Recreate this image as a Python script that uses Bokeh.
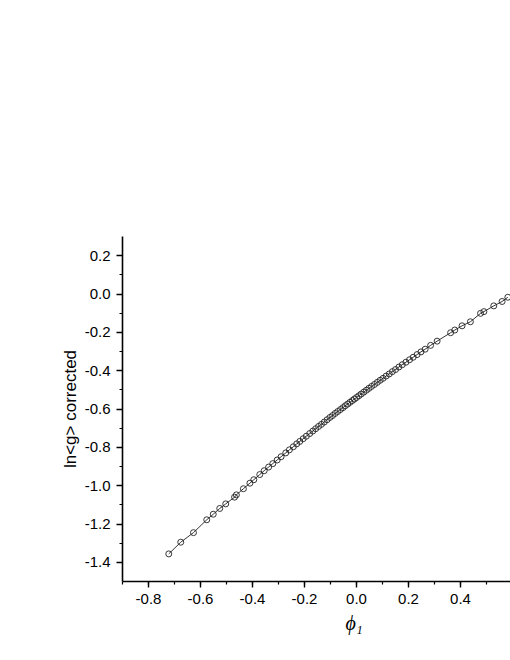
from bokeh.plotting import figure
from bokeh.models import Range1d, SingleIntervalTicker, PrintfTickFormatter, Title
from bokeh.embed import file_html
from bokeh.resources import INLINE

phi1 = [-0.722, -0.676, -0.627, -0.576, -0.551, -0.526, -0.503, -0.469, -0.462, -0.435, -0.410,
        -0.395, -0.372, -0.355, -0.338, -0.322, -0.305, -0.290, -0.272, -0.258, -0.243, -0.230,
        -0.218, -0.205, -0.193, -0.180, -0.168, -0.157, -0.146, -0.135, -0.124, -0.113, -0.102,
        -0.092, -0.082, -0.072, -0.062, -0.052, -0.043, -0.034, -0.025, -0.016, -0.008, 0.000,
        0.009, 0.018, 0.028, 0.038, 0.048, 0.058, 0.069, 0.080, 0.091, 0.102, 0.114, 0.126,
        0.138, 0.150, 0.163, 0.176, 0.190, 0.204, 0.218, 0.233, 0.248, 0.264, 0.285, 0.310,
        0.362, 0.378, 0.406, 0.438, 0.477, 0.490, 0.528, 0.560, 0.582]
ln_g = [-1.356, -1.295, -1.245, -1.178, -1.149, -1.119, -1.095, -1.060, -1.048, -1.016, -0.987,
        -0.969, -0.942, -0.922, -0.903, -0.885, -0.866, -0.849, -0.829, -0.813, -0.797, -0.782,
        -0.769, -0.755, -0.742, -0.728, -0.715, -0.703, -0.691, -0.680, -0.668, -0.656, -0.644,
        -0.634, -0.623, -0.613, -0.603, -0.593, -0.583, -0.574, -0.565, -0.556, -0.548, -0.540,
        -0.531, -0.522, -0.512, -0.502, -0.492, -0.482, -0.472, -0.461, -0.450, -0.440, -0.428,
        -0.417, -0.405, -0.394, -0.381, -0.369, -0.356, -0.343, -0.330, -0.316, -0.302, -0.288,
        -0.268, -0.246, -0.202, -0.188, -0.166, -0.145, -0.101, -0.092, -0.062, -0.039, -0.017]

x_label = "ϕ₁"
y_label = "ln<g> corrected"

p = figure(width=510, height=650, output_backend="svg", toolbar_location=None,
           x_range=Range1d(-0.9, 0.5923), y_range=Range1d(-1.5, 0.3),
           min_border_left=122, min_border_top=236, min_border_right=0, min_border_bottom=69)
p.outline_line_color = None
p.grid.visible = False
p.background_fill_color = "white"
p.border_fill_color = "white"

p.line(phi1, ln_g, line_color="black", line_width=0.8)
p.scatter(phi1, ln_g, marker="circle", size=6, fill_color=None, line_color="#222222", line_width=0.9)

for ax in (p.xaxis[0], p.yaxis[0]):
    ax.ticker = SingleIntervalTicker(interval=0.2, num_minor_ticks=2)
    ax.formatter = PrintfTickFormatter(format="%.1f")
    ax.axis_line_width = 1.6
    ax.axis_line_color = "black"
    ax.major_tick_line_color = "black"
    ax.minor_tick_line_color = "black"
    ax.major_tick_line_width = 1.4
    ax.minor_tick_line_width = 1.2
    ax.major_tick_out = 6
    ax.major_tick_in = 0
    ax.minor_tick_out = 3
    ax.minor_tick_in = 0
    ax.major_label_text_font = "Liberation Sans"
    ax.major_label_text_font_size = "15px"
    ax.major_label_text_color = "black"
    ax.major_label_standoff = 6
    ax.axis_label_text_color = "black"

# x-axis title, placed under phi1 = 0 as in the original
p.add_layout(Title(text=x_label, align="left", offset=223, standoff=6,
                   text_font="Liberation Serif", text_font_style="italic",
                   text_font_size="20px", text_color="black"), "below")

p.yaxis.axis_label = y_label
p.yaxis.axis_label_text_font = "Liberation Sans"
p.yaxis.axis_label_text_font_style = "normal"
p.yaxis.axis_label_text_font_size = "17px"
p.yaxis.axis_label_standoff = 2

open("out.html", "w").write(file_html(p, INLINE))
